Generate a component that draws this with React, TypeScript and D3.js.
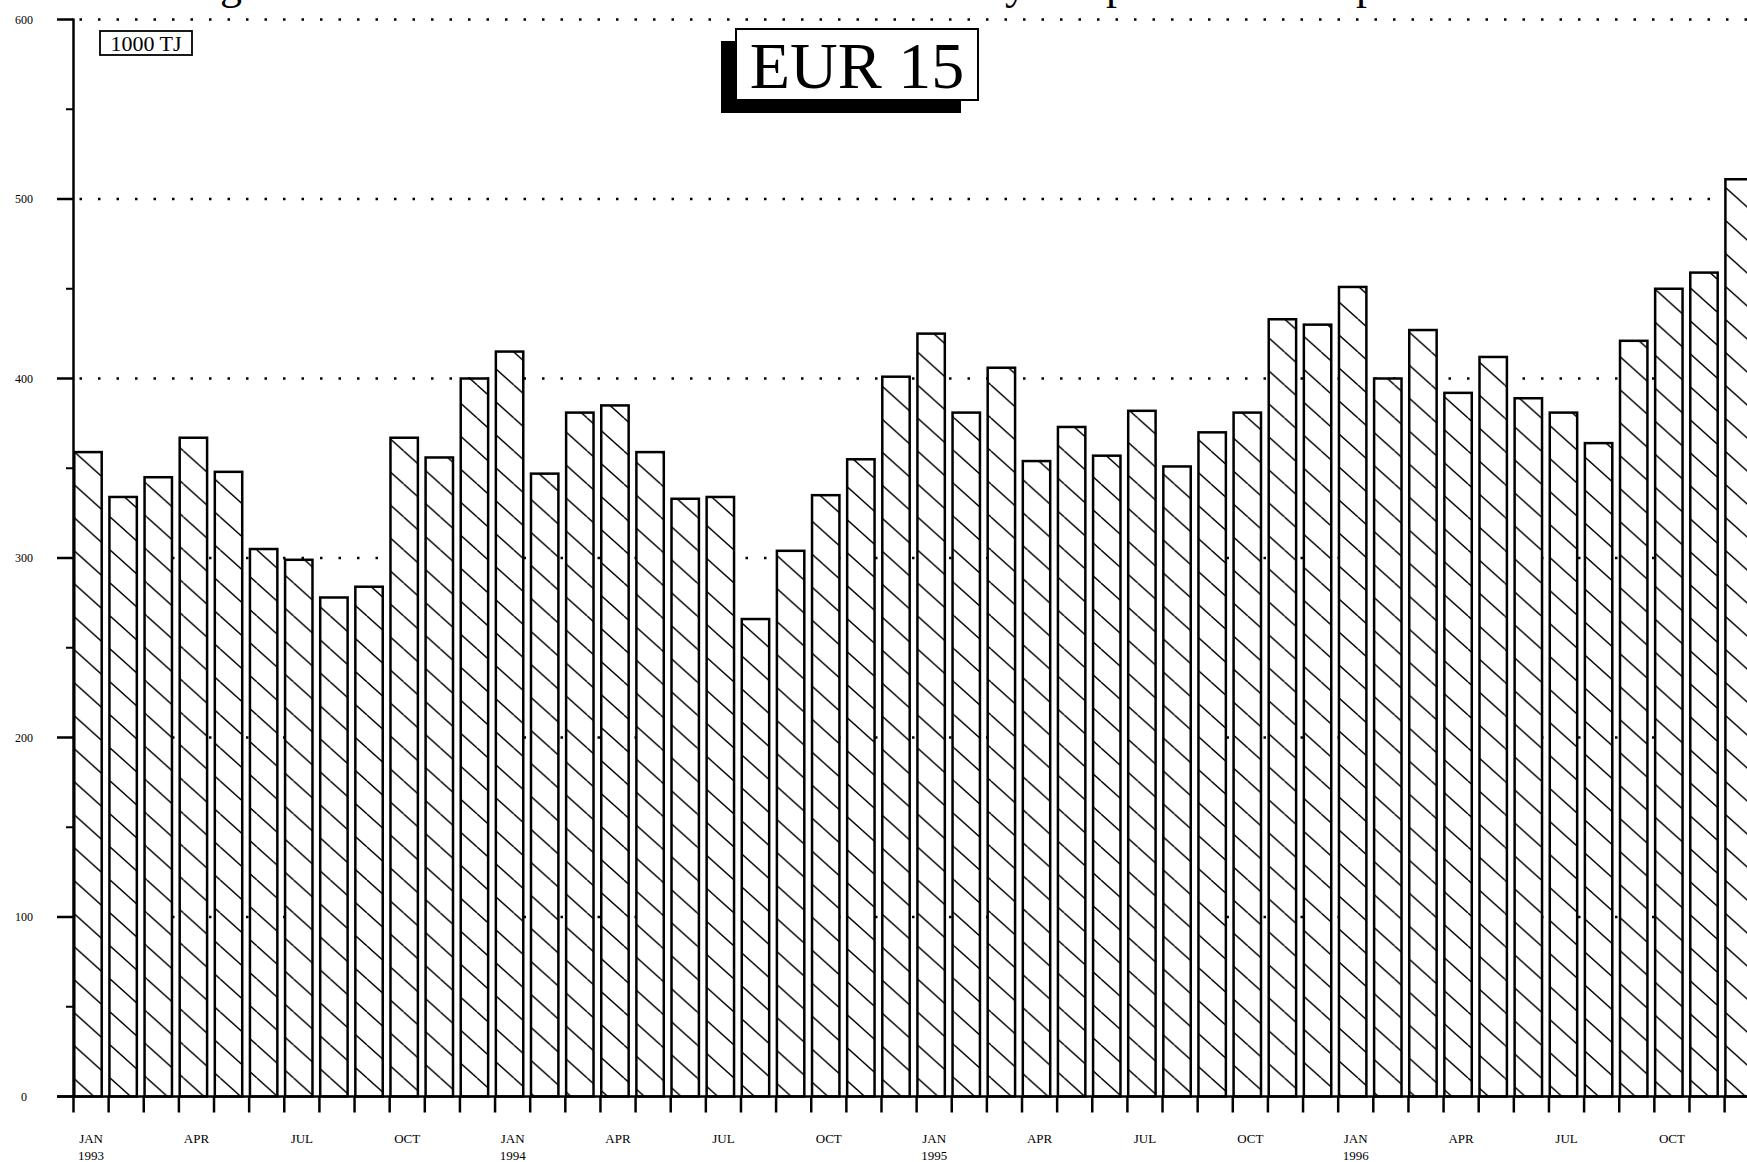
import React, { useRef, useEffect } from 'react';
import * as d3 from 'd3';

const monthNames = ['JAN', 'FEB', 'MAR', 'APR', 'MAY', 'JUN', 'JUL', 'AUG', 'SEP', 'OCT', 'NOV', 'DEC'];
const years = [1993, 1994, 1995, 1996];
const quarterMonths = ['JAN', 'APR', 'JUL', 'OCT'];

// monthly consumption, 1000 TJ, JAN 1993 .. DEC 1996
const consumption = [
  359, 334, 345, 367, 348, 305, 299, 278, 284, 367, 356, 400,
  415, 347, 381, 385, 359, 333, 334, 266, 304, 335, 355, 401,
  425, 381, 406, 354, 373, 357, 382, 351, 370, 381, 433, 430,
  451, 400, 427, 392, 412, 389, 381, 364, 421, 450, 459, 511,
];

const yTicks = [0, 100, 200, 300, 400, 500, 600];
const yMinorTicks = [50, 150, 250, 350, 450, 550];
const unitLabel = '1000 TJ';
const regionLabel = 'EUR 15';
// the page title is cut off at the top; only these descenders show
const titleGlyphs = ['g', 'y', 'p', 'p'];
const titleGlyphX = [231, 1016, 1117, 1367];

const WIDTH = 1747;
const HEIGHT = 1162;
const FONT = '"Liberation Serif", "Times New Roman", serif';

const App = () => {
  const ref = useRef(null);

  useEffect(() => {
    const svg = d3.select(ref.current);
    svg.selectAll('*').remove();

    const keys = years.flatMap(yr => monthNames.map(m => `${m} ${yr}`));
    const data = keys.map((k, i) => ({ key: k, month: k.split(' ')[0], year: k.split(' ')[1], value: consumption[i] }));

    const axisX = 73.5;
    const step = 35.13;

    const x = d3.scaleBand()
      .domain(keys)
      .range([axisX, axisX + step * keys.length])
      .paddingInner(0)
      .paddingOuter(0);

    const y = d3.scaleLinear()
      .domain([0, 600])
      .range([1096.5, 19.5]);

    // hatch fill
    const defs = svg.append('defs');
    const pw = 36.7, ph = 33;
    const pat = defs.append('pattern')
      .attr('id', 'hatch')
      .attr('patternUnits', 'userSpaceOnUse')
      .attr('width', pw)
      .attr('height', ph)
      .attr('patternTransform', 'translate(0,22)');
    pat.append('rect').attr('width', pw).attr('height', ph).attr('fill', '#fff');
    [-1, 0, 1].forEach(k => {
      pat.append('line')
        .attr('x1', 0).attr('y1', k * ph)
        .attr('x2', pw).attr('y2', (k + 1) * ph)
        .attr('stroke', '#000')
        .attr('stroke-width', 1.4);
    });

    svg.append('rect').attr('width', WIDTH).attr('height', HEIGHT).attr('fill', '#fff');

    // title remnants
    svg.append('g')
      .selectAll('text')
      .data(titleGlyphs)
      .join('text')
      .attr('x', (d, i) => titleGlyphX[i])
      .attr('y', -1)
      .attr('text-anchor', 'middle')
      .style('font-family', FONT)
      .style('font-size', '44px')
      .text(d => d);

    // dotted grid
    svg.append('g')
      .selectAll('line')
      .data(yTicks.filter(t => t > 0))
      .join('line')
      .attr('x1', axisX + 6)
      .attr('x2', WIDTH)
      .attr('y1', d => y(d))
      .attr('y2', d => y(d))
      .attr('stroke', '#000')
      .attr('stroke-width', 2.5)
      .attr('stroke-dasharray', '2.5 16');

    // bars
    svg.append('g')
      .selectAll('rect')
      .data(data)
      .join('rect')
      .attr('x', d => x(d.key) + 0.8)
      .attr('y', d => y(d.value))
      .attr('width', x.bandwidth() * 0.78)
      .attr('height', d => y(0) - y(d.value))
      .attr('fill', 'url(#hatch)')
      .attr('stroke', '#000')
      .attr('stroke-width', 2.5);

    // y axis
    const ya = svg.append('g');
    ya.append('line')
      .attr('x1', axisX).attr('x2', axisX)
      .attr('y1', y(600) - 1).attr('y2', y(0))
      .attr('stroke', '#000').attr('stroke-width', 2.5);
    ya.selectAll('.major')
      .data(yTicks)
      .join('line')
      .attr('class', 'major')
      .attr('x1', 57).attr('x2', axisX)
      .attr('y1', d => y(d)).attr('y2', d => y(d))
      .attr('stroke', '#000').attr('stroke-width', 2.5);
    ya.selectAll('.minor')
      .data(yMinorTicks)
      .join('line')
      .attr('class', 'minor')
      .attr('x1', 66).attr('x2', axisX)
      .attr('y1', d => y(d)).attr('y2', d => y(d))
      .attr('stroke', '#000').attr('stroke-width', 2);
    ya.selectAll('text')
      .data(yTicks)
      .join('text')
      .attr('x', 24)
      .attr('y', d => y(d))
      .attr('dy', '0.35em')
      .attr('text-anchor', 'middle')
      .style('font-family', FONT)
      .style('font-size', '12px')
      .text(d => d);

    // x axis
    const xa = svg.append('g');
    xa.append('line')
      .attr('x1', 57).attr('x2', WIDTH)
      .attr('y1', y(0)).attr('y2', y(0))
      .attr('stroke', '#000').attr('stroke-width', 2.5);
    xa.selectAll('.tick')
      .data(keys)
      .join('line')
      .attr('class', 'tick')
      .attr('x1', d => x(d)).attr('x2', d => x(d))
      .attr('y1', y(0)).attr('y2', y(0) + 16)
      .attr('stroke', '#000').attr('stroke-width', 2.5);

    const labelled = data.filter(d => quarterMonths.includes(d.month));
    xa.selectAll('.mlabel')
      .data(labelled)
      .join('text')
      .attr('class', 'mlabel')
      .attr('x', d => x(d.key) + x.bandwidth() / 2)
      .attr('y', 1143)
      .attr('text-anchor', 'middle')
      .style('font-family', FONT)
      .style('font-size', '13px')
      .text(d => d.month);
    xa.selectAll('.ylabel')
      .data(labelled.filter(d => d.month === 'JAN'))
      .join('text')
      .attr('class', 'ylabel')
      .attr('x', d => x(d.key) + x.bandwidth() / 2)
      .attr('y', 1160)
      .attr('text-anchor', 'middle')
      .style('font-family', FONT)
      .style('font-size', '13px')
      .text(d => d.year);

    // unit box
    svg.append('rect')
      .attr('x', 100).attr('y', 31).attr('width', 92).attr('height', 24)
      .attr('fill', '#fff').attr('stroke', '#000').attr('stroke-width', 1.8);
    svg.append('text')
      .attr('x', 146).attr('y', 51)
      .attr('text-anchor', 'middle')
      .style('font-family', FONT)
      .style('font-size', '22px')
      .text(unitLabel);

    // region label with drop shadow
    svg.append('rect')
      .attr('x', 721).attr('y', 41).attr('width', 240).attr('height', 72)
      .attr('fill', '#000');
    svg.append('rect')
      .attr('x', 736).attr('y', 29).attr('width', 242).attr('height', 71)
      .attr('fill', '#fff').attr('stroke', '#000').attr('stroke-width', 2);
    svg.append('text')
      .attr('x', 857).attr('y', 88)
      .attr('text-anchor', 'middle')
      .style('font-family', FONT)
      .style('font-size', '66px')
      .text(regionLabel);
  }, []);

  return (
    <svg
      ref={ref}
      width={WIDTH}
      height={HEIGHT}
      style={{ position: 'absolute', left: 0, top: 0, display: 'block' }}
    />
  );
};

export default App;
